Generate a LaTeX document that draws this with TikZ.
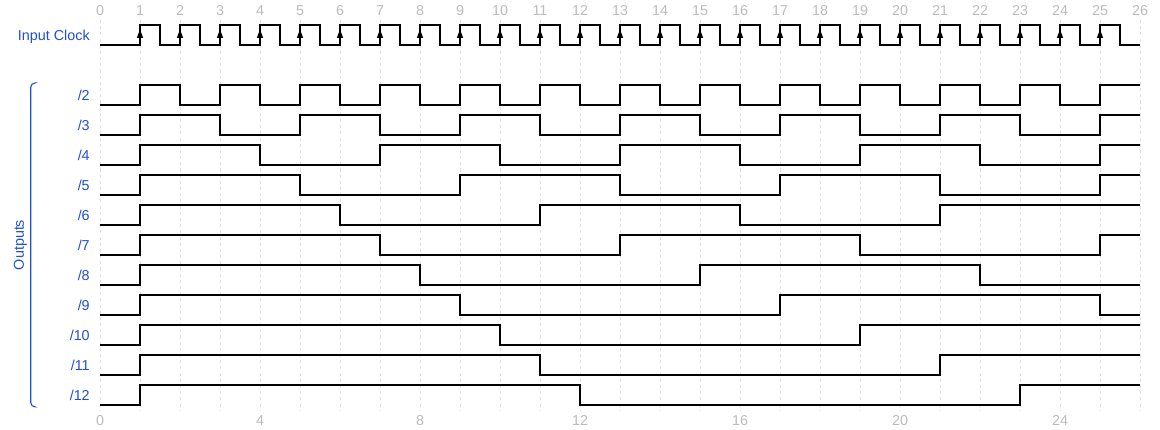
\documentclass[tikz,border=0pt]{standalone}
\usepackage{fontspec}
\setmainfont{Liberation Sans}
\definecolor{lblue}{HTML}{1F4FD1}
\definecolor{numgray}{HTML}{BBBBBB}
\definecolor{gridgray}{HTML}{DDDDDD}
\begin{document}
\begin{tikzpicture}[x=1cm,y=-0.025cm,
  wave/.style={line width=0.85pt, line join=miter},
  gridline/.style={gridgray, line width=0.7pt, dash pattern=on 2.2pt off 2.2pt},
  num/.style={numgray, font=\fontsize{10.2pt}{12pt}\selectfont, anchor=base, inner sep=0pt},
  lbl/.style={lblue, font=\fontsize{10.2pt}{12pt}\selectfont, anchor=base east, inner sep=0pt},
  tick/.style={fill=black}]
\useasboundingbox (-2.5,0) rectangle (26.5,430);
\foreach \a in {0,...,26} {
  \draw[gridline] (\a,20) -- (\a,410);
  \node[num] (top\a) at (\a,15.5) {\a};
}
\foreach \a in {0,4,...,24} \node[num] (bot\a) at (\a,426) {\a};
\node[lbl] (clk) at (-0.25,40.5) {Input Clock};
\draw[wave] (0,45) \foreach \a in {1,...,25} { -| (\a,25) -| ({\a+0.5},45) } -- (26,45);
\foreach \a in {1,...,25} \fill[tick] (\a,29.5) -- ++(-0.08,8.5) -- ++(0.16,0) -- cycle;
\foreach \r in {0,...,10} {
  \pgfmathtruncatemacro\h{\r+1}
  \pgfmathtruncatemacro\n{\r+2}
  \pgfmathtruncatemacro\N{floor(24/\h)}
  \begin{scope}[shift={(0,30*\r)}]
    \node[lbl] (out\n) at (-0.25,101) {/\n};
    \draw[wave] (0,105) \foreach \k in {0,...,\N} { -| ({1+\k*\h},{85+20*mod(\k,2)}) } -- ++({25-\N*\h},0);
  \end{scope}
}
\node[lblue, rotate=90, anchor=base, font=\fontsize{10.2pt}{12pt}\selectfont, inner sep=0pt] (outputs) at (-1.9,245) {Outputs};
\draw[lblue, line width=0.8pt, rounded corners=3pt] (-1.625,83) -- (-1.73,83) -- (-1.73,407) -- (-1.625,407);
\end{tikzpicture}
\end{document}
